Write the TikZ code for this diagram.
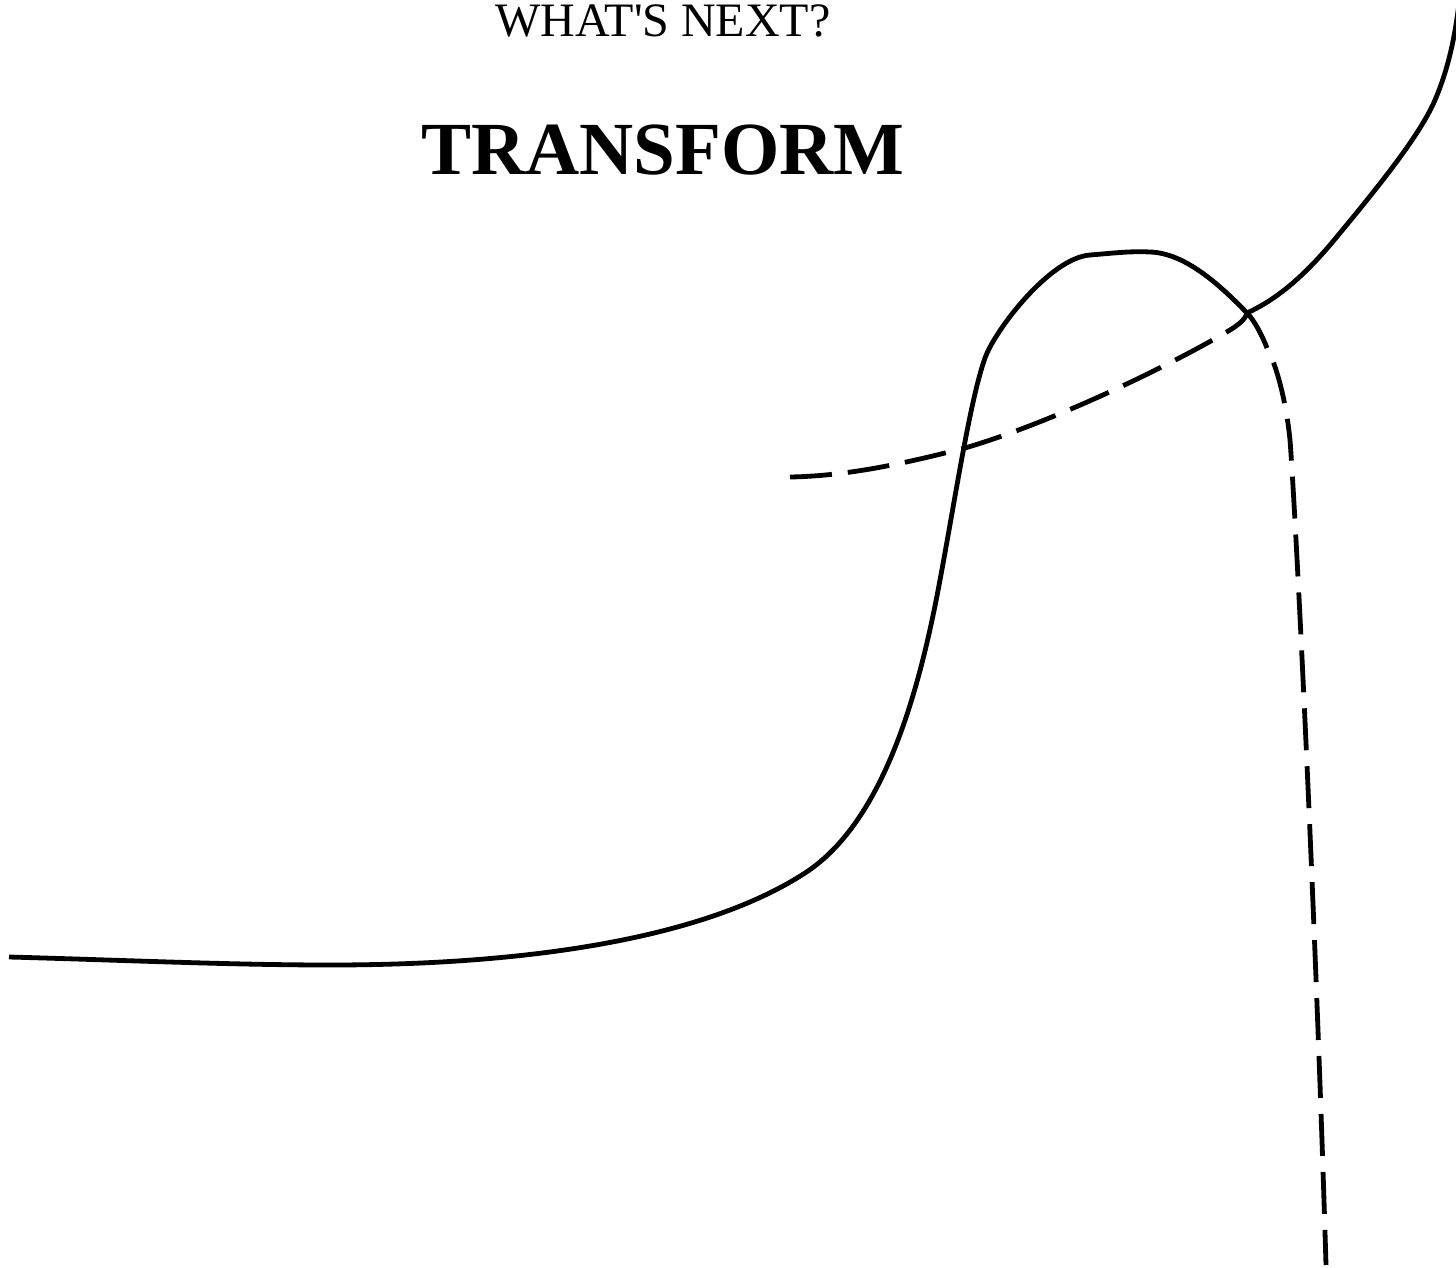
\documentclass[tikz,border=0pt]{standalone}
\usepackage{fontspec}
\newfontfamily\titlefont{Liberation Serif}[Ligatures=TeXOff]
\begin{document}
\begin{tikzpicture}[x=1pt,y=-1pt,
  curve/.style={line width=4.8pt, line cap=butt, line join=round},
  dashcurve/.style={curve, dash pattern=on 42pt off 16pt},
  smallhead/.style={font=\titlefont\fontsize{48}{50}\selectfont, anchor=base, inner sep=0pt},
  bighead/.style={font=\titlefont\bfseries\fontsize{75}{78}\selectfont, anchor=base, inner sep=0pt}]
\useasboundingbox (0,0) rectangle (1456,1268);
\begin{scope}
\clip (0,0) rectangle (1456,1268);
\node[smallhead] (what) at (663,37) {WHAT'S NEXT?};
\node[bighead] (transform) at (663,175) {TRANSFORM};
\coordinate (start) at (9,957);
\coordinate (junction) at (1247,313);
\coordinate (split) at (1267,348);
\coordinate (bottomend) at (1326,1265);
\coordinate (dashstart) at (790,477);
\coordinate (topend) at (1460,-5);
% main solid curve
\draw[curve] (start)
  .. controls (120,960) and (230,965) .. (330,965)
  .. controls (530,965) and (705,938) .. (805,873)
  .. controls (885,821) and (920,688) .. (940,580)
  .. controls (955,500) and (970,400) .. (985,358)
  .. controls (995,330) and (1050,258) .. (1090,255)
  .. controls (1115,253) and (1130,251) .. (1150,252)
  .. controls (1185,253) and (1220,285) .. (junction)
  .. controls (1254,320) and (1262,335) .. (split);
% dashed continuation downwards
\draw[dashcurve, dash phase=42pt] (split)
  .. controls (1276,364) and (1286,400) .. (1290,440)
  .. controls (1296,520) and (1315,900) .. (bottomend);
% dashed rising curve
\draw[dashcurve] (dashstart)
  .. controls (850,476) and (910,462) .. (965,448)
  .. controls (1060,420) and (1180,360) .. (1230,330)
  .. controls (1240,324) and (1246,318) .. (junction);
% solid curve to top right
\draw[curve] (junction)
  .. controls (1275,300) and (1300,280) .. (1330,245)
  .. controls (1380,185) and (1420,135) .. (1435,100)
  .. controls (1450,65) and (1456,30) .. (topend);
\end{scope}
\end{tikzpicture}
\end{document}
